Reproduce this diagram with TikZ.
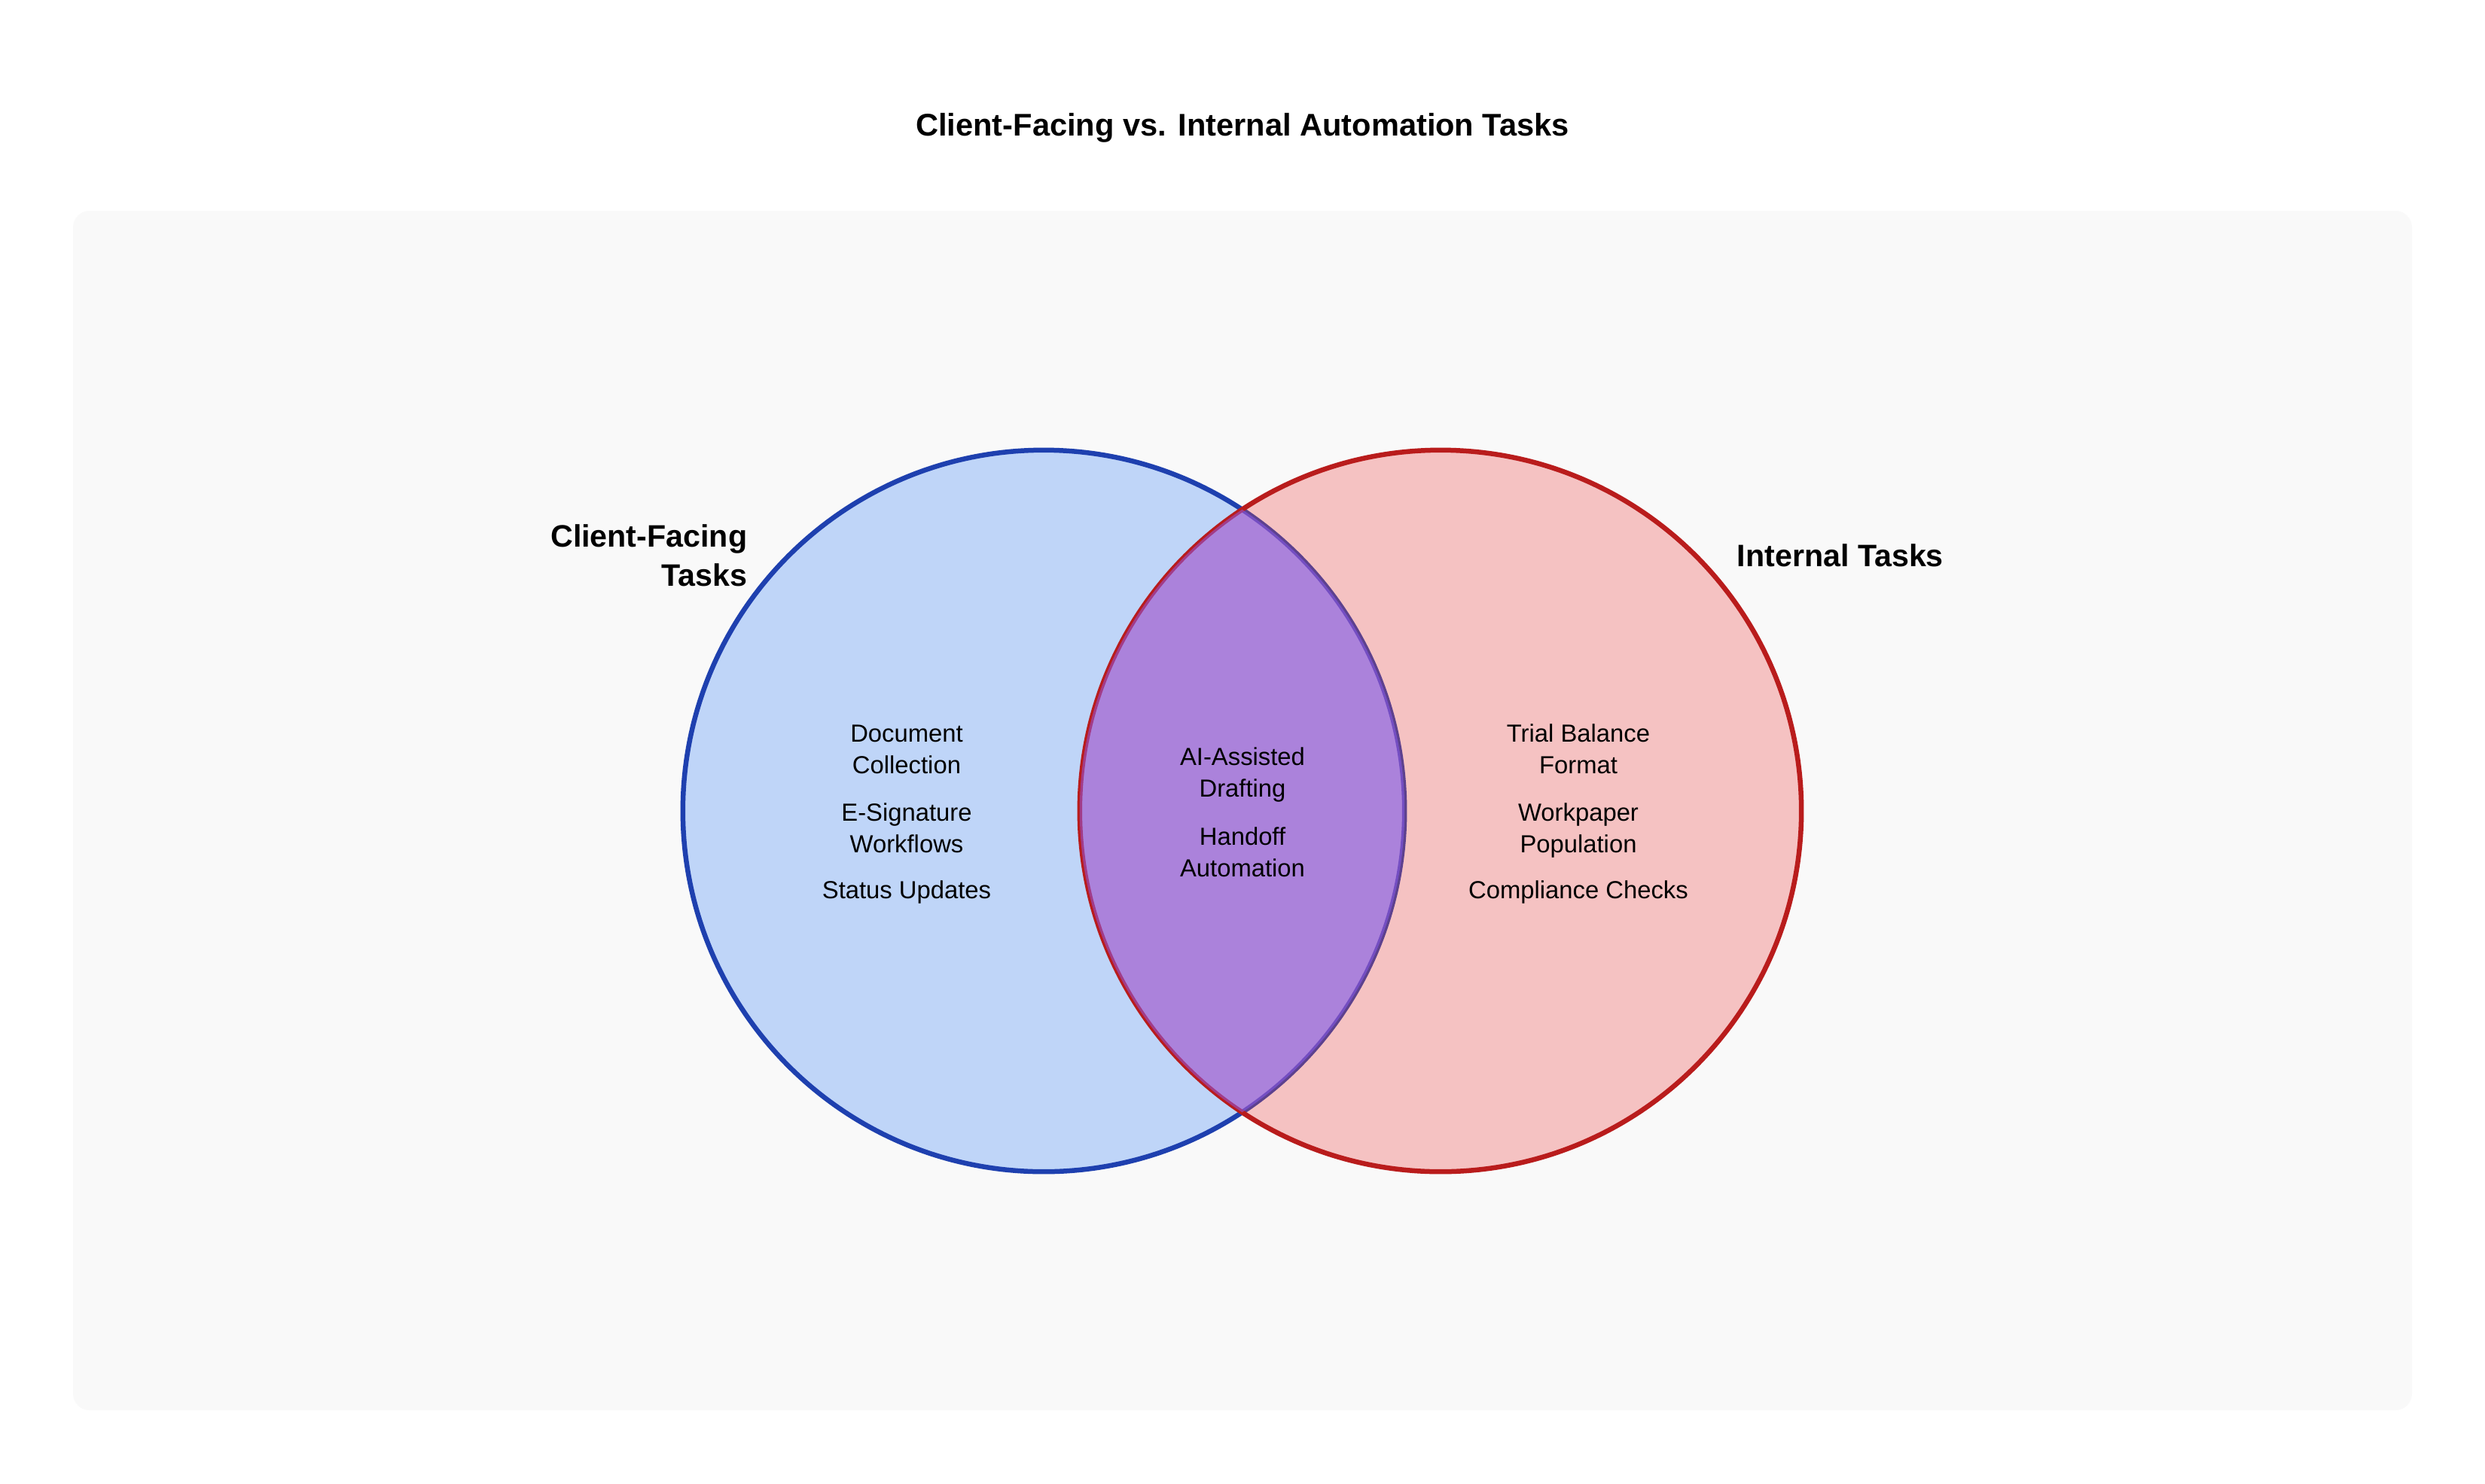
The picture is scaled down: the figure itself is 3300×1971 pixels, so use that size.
\documentclass[tikz,border=0pt]{standalone}
\usepackage{fontspec}
\setmainfont{Liberation Sans}
\begin{document}
\definecolor{panelbg}{HTML}{F9F9F9}
\definecolor{clientline}{HTML}{1E40AF}
\definecolor{clientfill}{HTML}{3B82F6}
\definecolor{internalline}{HTML}{B91C1C}
\definecolor{internalfill}{HTML}{EF4444}
\definecolor{sharedfill}{HTML}{8B5CF6}
\begin{tikzpicture}[x=0.25pt,y=-0.25pt,
  titletext/.style={inner sep=0pt,font=\bfseries\fontsize{10.4}{12.5}\selectfont},
  settitle/.style={inner sep=0pt,font=\bfseries\fontsize{10.3}{13}\selectfont},
  item/.style={inner sep=0pt,align=center,anchor=base,font=\fontsize{8.2}{10.5}\selectfont},
  vennset/.style={line width=1.625pt,fill opacity=0.3,draw opacity=1}]
  \useasboundingbox (0,0) rectangle (3300,1971);
  \fill[white] (0,0) rectangle (3300,1971);
  % panel
  \fill[panelbg,rounded corners=5.5pt] (97,280) rectangle (3203,1873);
  % title
  \node[titletext,anchor=base] (title) at (1650,180) {Client-Facing vs. Internal Automation Tasks};
  % the two sets
  \coordinate (cA) at (1386,1077);
  \coordinate (cB) at (1913,1077);
  \path[vennset,draw=clientline,fill=clientfill] (cA) circle[radius=119.8pt];
  \path[vennset,draw=internalline,fill=internalfill] (cB) circle[radius=119.8pt];
  % shared region
  \begin{scope}
    \clip (cA) circle[radius=119.8pt];
    \fill[sharedfill,fill opacity=0.5] (cB) circle[radius=119.8pt];
  \end{scope}
  % set labels (multi-line nodes are placed by their last baseline)
  \node[settitle,align=right,anchor=base east] (lblA) at (993,778) {Client-Facing\\Tasks};
  \node[settitle,anchor=base west] (lblB) at (2306,752) {Internal Tasks};
  % client-facing items
  \node[item] (a1) at (1204,1027) {Document\\Collection};
  \node[item] (a2) at (1204,1132) {E-Signature\\Workflows};
  \node[item] (a3) at (1204,1193) {Status Updates};
  % shared items
  \node[item] (s1) at (1650,1058) {AI-Assisted\\Drafting};
  \node[item] (s2) at (1650,1164) {Handoff\\Automation};
  % internal items
  \node[item] (b1) at (2096,1027) {Trial Balance\\Format};
  \node[item] (b2) at (2096,1132) {Workpaper\\Population};
  \node[item] (b3) at (2096,1193) {Compliance Checks};
\end{tikzpicture}
\end{document}
